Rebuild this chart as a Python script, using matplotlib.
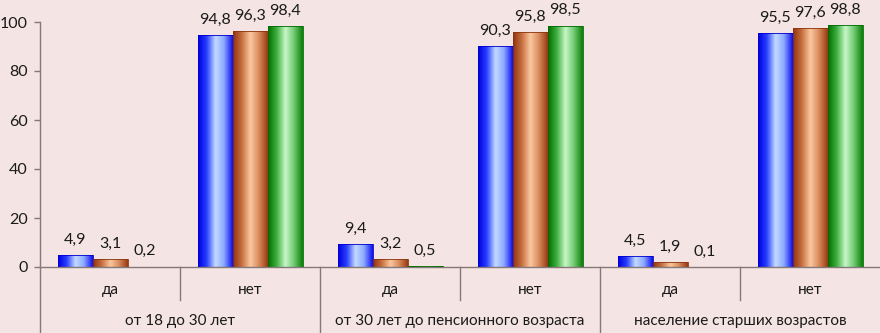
import numpy as np
import matplotlib
matplotlib.use("Agg")
import matplotlib.pyplot as plt
from matplotlib.colors import LinearSegmentedColormap
from matplotlib.transforms import blended_transform_factory

plt.rcParams['font.family'] = ['Lato', 'DejaVu Sans']

# data
groups = ["от 18 до 30 лет", "от 30 лет до пенсионного возраста", "население старших возрастов"]
answers = ["да", "нет"]
series_1 = [4.9, 94.8, 9.4, 90.3, 4.5, 95.5]
series_2 = [3.1, 96.3, 3.2, 95.8, 1.9, 97.6]
series_3 = [0.2, 98.4, 0.5, 98.5, 0.1, 98.8]
y_ticks = [0, 20, 40, 60, 80, 100]

bg = '#f5e4e4'
axis_col = '#857878'

# horizontal "cylinder" gradients for each series
grads = [
    ['#0000e0', '#2a40ff', '#c4dcff', '#8aa8ff', '#1010f0'],
    ['#903410', '#c87040', '#fbc8a0', '#d88a5a', '#983c14'],
    ['#007000', '#40b040', '#c8f8c8', '#70c870', '#0a800a'],
]
edge_cols = ['#0000cc', '#8a3410', '#006a00']

fig = plt.figure(figsize=(8.8, 3.33), dpi=100, facecolor=bg)
ax = fig.add_axes([40 / 880, 66 / 333, 840 / 880, 245 / 333])
ax.set_facecolor(bg)

n = len(series_1)
x = np.arange(n)
w = 0.25
for k, vals in enumerate([series_1, series_2, series_3]):
    cmap = LinearSegmentedColormap.from_list(f'g{k}', grads[k])
    bars = ax.bar(x + (k - 1) * w, vals, w, color='none', edgecolor=edge_cols[k],
                  linewidth=0.6, zorder=3)
    for b, v in zip(bars, vals):
        x0 = b.get_x()
        im = ax.imshow(np.linspace(0, 1, 64).reshape(1, -1), cmap=cmap, aspect='auto',
                       extent=[x0, x0 + w, 0, v], zorder=2, interpolation='bilinear')
        im.set_clip_path(b)
        ax.annotate(f"{v:.1f}".replace('.', ','), (x0 + w / 2, v), xytext=(0, 6),
                    textcoords='offset points', ha='center', va='bottom',
                    fontsize=11.5, color='#1a1a1a')

ax.set_xlim(-0.5, n - 0.5)
ax.set_ylim(0, 100)
ax.set_yticks(y_ticks)
ax.set_yticklabels([str(t) for t in y_ticks], fontsize=11.5, color='#1a1a1a')
ax.tick_params(axis='y', length=4, width=1, color=axis_col, pad=5)
ax.set_xticks([])
for s in ['top', 'right']:
    ax.spines[s].set_visible(False)
ax.spines['left'].set_color(axis_col)
ax.spines['bottom'].set_color(axis_col)
ax.spines['left'].set_bounds(0, 100)
ax.spines['bottom'].set_linewidth(1)
ax.spines['left'].set_linewidth(1)

# two-level category axis
tr = blended_transform_factory(ax.transData, ax.transAxes)
px = 1 / 245  # one pixel in axes fraction (vertical)
for i in range(n):
    ax.text(i, -23 * px, answers[i % 2], transform=tr, ha='center', va='center',
            fontsize=11, color='#1a1a1a')
for g, name in enumerate(groups):
    ax.text(2 * g + 0.5, -54 * px, name, transform=tr, ha='center', va='center',
            fontsize=11, color='#1a1a1a')
# separators
ax.plot([-0.5, -0.5], [0, -66 * px], transform=tr, color=axis_col, lw=1, clip_on=False)
for i in range(1, n):
    bottom = -66 * px if i % 2 == 0 else -33 * px
    ax.plot([i - 0.5, i - 0.5], [0, bottom], transform=tr, color=axis_col, lw=1,
            clip_on=False)

fig.savefig('out.png', dpi=100, facecolor=bg)
